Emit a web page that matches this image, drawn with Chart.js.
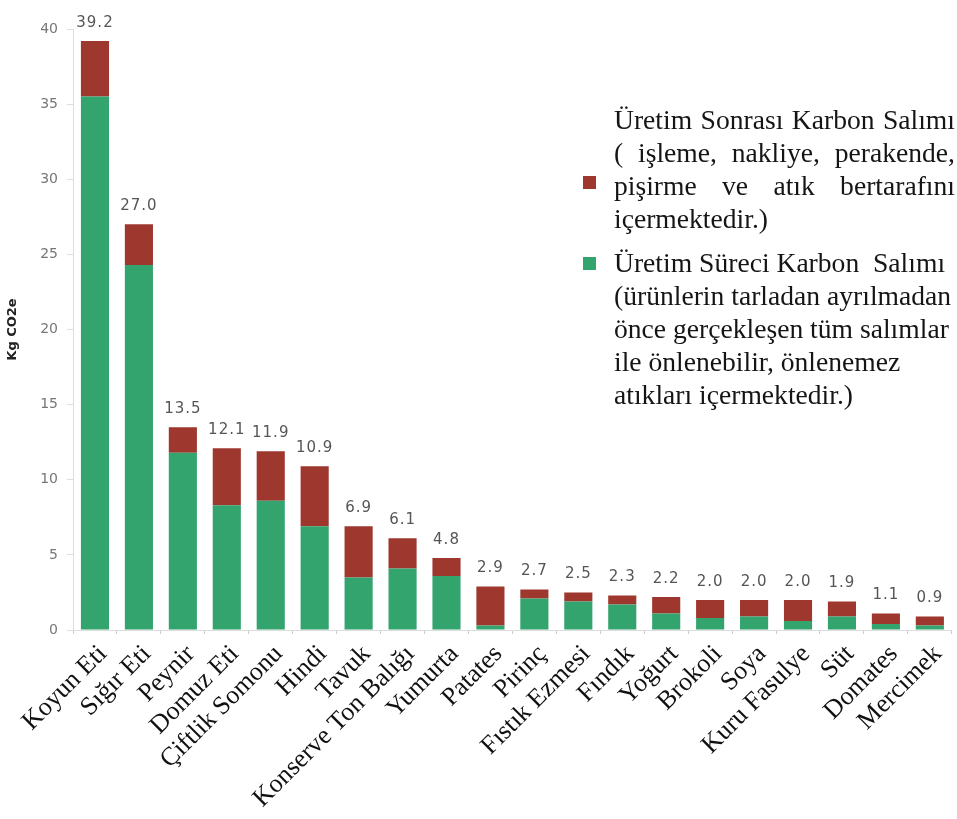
<!DOCTYPE html>
<html>
<head>
<meta charset="utf-8">
<script src="https://cdn.jsdelivr.net/npm/chart.js@4/dist/chart.umd.min.js"></script>
<style>
  body { margin: 0; background: #fff; }
  #wrap { position: relative; width: 957px; height: 819px; }
  #legend { position: absolute; left: 582px; top: 103px; width: 373px;
    font-family: "Liberation Serif", "Times New Roman", serif; font-size: 27.6px;
    line-height: 33px; color: #151515; }
  .item { position: relative; padding-left: 32px; }
  .item .box { position: absolute; left: 1px; width: 13px; height: 13px; }
  .item .line { white-space: nowrap; }
  .item .just { text-align: justify; text-align-last: justify; }
  .item.second { margin-top: 11px; }
</style>
</head>
<body>
<div id="wrap">
  <canvas id="graphId" width="957" height="819"></canvas>
  <div id="legend"></div>
</div>
<script>
var categories = ['Koyun Eti', 'Sığır Eti', 'Peynir', 'Domuz Eti', 'Çiftlik Somonu', 'Hindi', 'Tavuk',
    'Konserve Ton Balığı', 'Yumurta', 'Patates', 'Pirinç', 'Fıstık Ezmesi', 'Fındık', 'Yoğurt',
    'Brokoli', 'Soya', 'Kuru Fasulye', 'Süt', 'Domates', 'Mercimek'];
var production = [35.5, 24.3, 11.8, 8.3, 8.6, 6.9, 3.5, 4.1, 3.6, 0.3, 2.1, 1.9, 1.7, 1.1, 0.8, 0.9, 0.6, 0.9, 0.4, 0.3];
var postProduction = [3.7, 2.7, 1.7, 3.8, 3.3, 4.0, 3.4, 2.0, 1.2, 2.6, 0.6, 0.6, 0.6, 1.1, 1.2, 1.1, 1.4, 1.0, 0.7, 0.6];
var totalLabels = ['39.2', '27.0', '13.5', '12.1', '11.9', '10.9', '6.9', '6.1', '4.8', '2.9', '2.7', '2.5', '2.3',
    '2.2', '2.0', '2.0', '2.0', '1.9', '1.1', '0.9'];
var yTicks = [0, 5, 10, 15, 20, 25, 30, 35, 40];

// legend lines; the first block is justified like in the source
var postLines = ['Üretim Sonrası Karbon Salımı', '( işleme, nakliye, perakende,', 'pişirme ve atık bertarafını', 'içermektedir.)'];
var prodLines = ['Üretim Süreci Karbon\u00a0 Salımı', '(ürünlerin tarladan ayrılmadan', 'önce gerçekleşen tüm salımlar',
    'ile önlenebilir, önlenemez', 'atıkları içermektedir.)'];
var green = '#34a46f';
var red = '#9e372e';

var canvas = document.getElementById('graphId');

var totalsPlugin = {
    id: 'totals',
    afterDatasetsDraw: function(chart) {
        var ctx = chart.ctx;
        var meta = chart.getDatasetMeta(1);
        ctx.save();
        ctx.font = '15px "DejaVu Sans", Verdana, sans-serif';
        ctx.letterSpacing = '1px';
        ctx.fillStyle = '#555';
        ctx.textAlign = 'center';
        ctx.textBaseline = 'middle';
        meta.data.forEach(function(bar, i) {
            ctx.fillText(totalLabels[i], bar.x, bar.y - 18);
        });
        ctx.restore();
    }
};

var myChart = new Chart(canvas.getContext('2d'), {
    type: 'bar',
    data: {
        labels: categories,
        datasets: [
            { label: 'Üretim Süreci Karbon Salımı', data: production, backgroundColor: green },
            { label: 'Üretim Sonrası Karbon Salımı', data: postProduction, backgroundColor: red }
        ]
    },
    options: {
        responsive: false,
        animation: false,
        layout: { padding: { top: 29, right: 4, bottom: 0, left: 0 } },
        categoryPercentage: 1,
        barPercentage: 0.64,
        plugins: { legend: { display: false }, tooltip: { enabled: false } },
        scales: {
            x: {
                stacked: true,
                afterFit: function(axis) { axis.height = 189; },
                border: { color: '#ddd' },
                grid: { drawOnChartArea: false, tickLength: 4, color: '#ccc' },
                ticks: {
                    autoSkip: false, maxRotation: 45, minRotation: 45, padding: 5, labelOffset: 8, color: '#111',
                    font: { family: '"Liberation Serif", "Times New Roman", serif', size: 26 }
                }
            },
            y: {
                stacked: true,
                min: 0, max: 40,
                afterBuildTicks: function(axis) {
                    axis.ticks = yTicks.map(function(v) { return { value: v }; });
                },
                afterFit: function(axis) { axis.width = 73; },
                border: { color: '#ddd' },
                grid: { drawOnChartArea: false, tickLength: 6, color: '#ddd' },
                ticks: { color: '#777', padding: 9, font: { family: '"DejaVu Sans", Verdana, sans-serif', size: 14 } },
                title: {
                    display: true, text: 'Kg CO2e', color: '#222', padding: { top: 5, bottom: 0 },
                    font: { family: '"DejaVu Sans", Verdana, sans-serif', size: 13, weight: 'bold' }
                }
            }
        }
    },
    plugins: [totalsPlugin]
});

var legend = document.getElementById('legend');
function addItem(color, lines, cls, boxTop, justCount) {
    var div = document.createElement('div');
    div.className = 'item ' + cls;
    var html = '<span class="box" style="background:' + color + ';top:' + boxTop + 'px"></span>';
    lines.forEach(function(t, i) {
        html += '<div class="line' + (i < justCount ? ' just' : '') + '">' + t + '</div>';
    });
    div.innerHTML = html;
    legend.appendChild(div);
}
addItem(red, postLines, 'first', 73, 3);
addItem(green, prodLines, 'second', 11, 0);
</script>
</body>
</html>
